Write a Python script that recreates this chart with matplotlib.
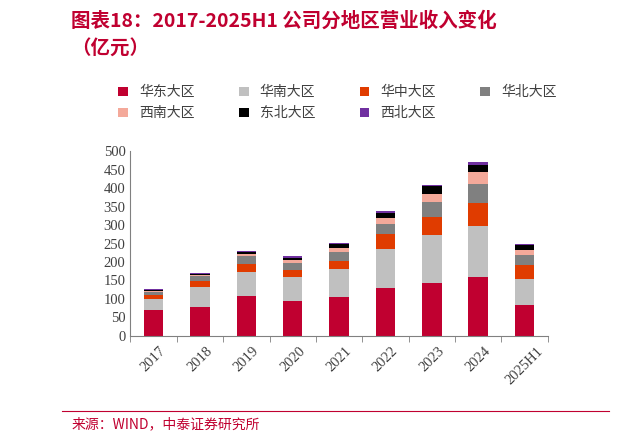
import matplotlib
matplotlib.use("Agg")
import matplotlib.pyplot as plt
import numpy as np

plt.rcParams['font.family'] = ['Noto Sans CJK SC', 'DejaVu Sans']

years = ["2017", "2018", "2019", "2020", "2021", "2022", "2023", "2024", "2025H1"]
regions = ["华东大区", "华南大区", "华中大区", "华北大区", "西南大区", "东北大区", "西北大区"]
east = [70, 79, 108, 94, 106, 131, 144, 160, 85]
south = [30, 54, 64, 66, 75, 105, 128, 138, 70]
central = [10, 16, 22, 18, 23, 39, 50, 63, 37]
north = [10, 13, 21, 19, 24, 28, 41, 49, 26]
southwest = [2, 3, 7, 9, 11, 16, 22, 33, 15]
northeast = [2, 3, 5, 5, 11, 13, 20, 19, 12]
northwest = [3, 2, 3, 4, 2, 6, 3, 10, 3]
series = [east, south, central, north, southwest, northeast, northwest]
colors = ["#C00030", "#C0C0C0", "#E03C00", "#808080", "#F4A99A", "#000000", "#7030A0"]

fig = plt.figure(figsize=(6.21, 4.42), dpi=100)
ax = fig.add_axes([0.21, 0.24, 0.672, 0.418])
x = np.arange(len(years))
bottom = np.zeros(len(years))
handles = []
for name, vals, c in zip(regions, series, colors):
    h = ax.bar(x, vals, 0.42, bottom=bottom, color=c, label=name)
    handles.append(h)
    bottom += np.array(vals)

ax.set_ylim(0, 500)
ax.set_yticks(range(0, 501, 50))
ax.set_xlim(-0.5, len(years) - 0.5)
ax.set_xticks(x)
ax.set_xticklabels(years, rotation=45, family=['Liberation Serif'], fontsize=10.5, color='#404040')
for t in ax.get_yticklabels():
    t.set_family(['Liberation Serif']); t.set_fontsize(10.5); t.set_color('#404040')
ax.set_xticks(np.arange(-0.5, len(years), 1), minor=True)
ax.tick_params(axis='x', which='major', length=0, pad=6)
ax.tick_params(axis='x', which='minor', length=4, direction='out', color='#808080')
ax.tick_params(axis='y', length=0)
for s in ['top', 'right']:
    ax.spines[s].set_visible(False)
ax.spines['left'].set_color('#808080')
ax.spines['bottom'].set_color('#808080')

order = [0, 4, 1, 5, 2, 6, 3]
fig.legend(handles=[handles[i] for i in order], labels=[regions[i] for i in order],
           ncol=4, loc='upper left',
           bbox_to_anchor=(0.17, 0.835), frameon=False, fontsize=10,
           handlelength=0.7, handleheight=0.7, columnspacing=3.2, labelspacing=0.5,
           labelcolor='#404040')

fig.text(0.115, 0.975, "图表18：2017-2025H1 公司分地区营业收入变化", fontsize=14,
         fontweight='bold', style='italic', color='#C00030', va='top')
fig.text(0.115, 0.91, "（亿元）", fontsize=14, fontweight='bold', style='italic',
         color='#C00030', va='top')
fig.add_artist(plt.Line2D([0.1, 0.98], [0.07, 0.07], color='#C00030', lw=0.8))
fig.text(0.115, 0.03, "来源：WIND，中泰证券研究所", fontsize=10, color='#C00030')

fig.savefig("out.png", dpi=100)
